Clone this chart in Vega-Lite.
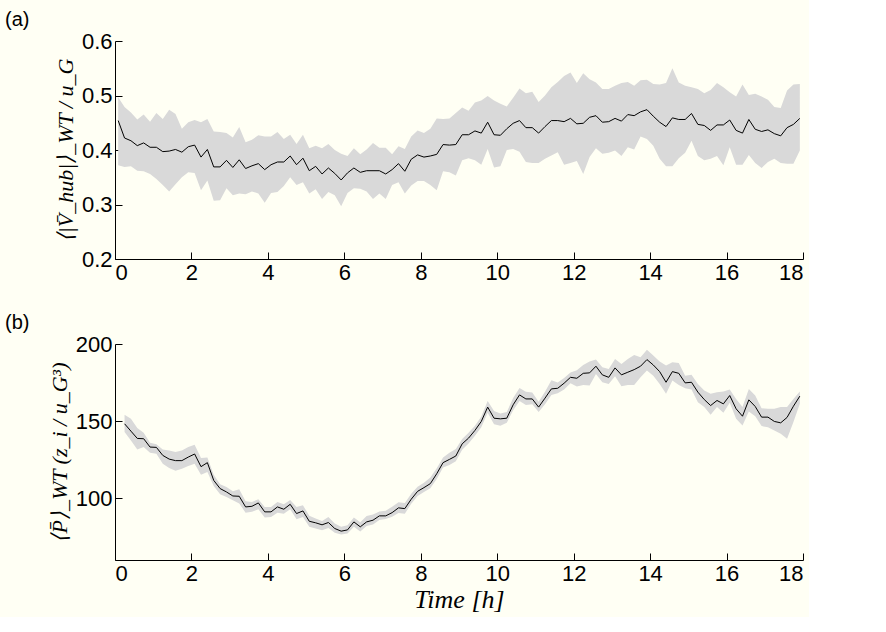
{
  "$schema": "https://vega.github.io/schema/vega-lite/v6.json",
  "background": "#fffff4",
  "padding": {"left": 5, "top": 10, "right": 5, "bottom": 5},
  "spacing": 30,
  "config": {
    "view": {"stroke": null},
    "font": "Liberation Sans",
    "axis": {
      "domainColor": "#000000", "domainWidth": 1,
      "tickColor": "#000000", "tickSize": -7, "tickWidth": 1,
      "labelPadding": 10, "labelFont": "Liberation Sans", "labelFontSize": 22, "labelColor": "#000000",
      "grid": false,
      "titleFont": "Liberation Serif", "titleFontStyle": "italic", "titleFontWeight": "normal", "titleColor": "#000000", "titleFontSize": 22
    },
    "title": {"font": "Liberation Sans", "fontSize": 20, "fontWeight": "normal", "color": "#000000", "anchor": "start", "frame": "group"}
  },
  "datasets": {
    "top": [
      {"t":0.083,"m":0.454,"lo":0.372,"hi":0.497},{"t":0.250,"m":0.422,"lo":0.369,"hi":0.479},{"t":0.417,"m":0.417,"lo":0.370,"hi":0.469},{"t":0.583,"m":0.408,"lo":0.362,"hi":0.456},
      {"t":0.750,"m":0.413,"lo":0.361,"hi":0.465},{"t":0.917,"m":0.405,"lo":0.356,"hi":0.452},{"t":1.083,"m":0.405,"lo":0.347,"hi":0.468},{"t":1.250,"m":0.397,"lo":0.336,"hi":0.457},
      {"t":1.417,"m":0.398,"lo":0.324,"hi":0.474},{"t":1.583,"m":0.401,"lo":0.337,"hi":0.466},{"t":1.750,"m":0.396,"lo":0.350,"hi":0.439},{"t":1.917,"m":0.406,"lo":0.359,"hi":0.451},
      {"t":2.083,"m":0.409,"lo":0.358,"hi":0.455},{"t":2.250,"m":0.387,"lo":0.326,"hi":0.451},{"t":2.417,"m":0.401,"lo":0.344,"hi":0.457},{"t":2.583,"m":0.369,"lo":0.307,"hi":0.434},
      {"t":2.750,"m":0.369,"lo":0.308,"hi":0.433},{"t":2.917,"m":0.381,"lo":0.330,"hi":0.431},{"t":3.083,"m":0.368,"lo":0.317,"hi":0.423},{"t":3.250,"m":0.382,"lo":0.320,"hi":0.442},
      {"t":3.417,"m":0.366,"lo":0.319,"hi":0.414},{"t":3.583,"m":0.371,"lo":0.324,"hi":0.419},{"t":3.750,"m":0.375,"lo":0.320,"hi":0.427},{"t":3.917,"m":0.364,"lo":0.303,"hi":0.425},
      {"t":4.083,"m":0.373,"lo":0.321,"hi":0.425},{"t":4.250,"m":0.378,"lo":0.323,"hi":0.433},{"t":4.417,"m":0.378,"lo":0.334,"hi":0.420},{"t":4.583,"m":0.389,"lo":0.350,"hi":0.428},
      {"t":4.750,"m":0.373,"lo":0.336,"hi":0.411},{"t":4.917,"m":0.385,"lo":0.341,"hi":0.428},{"t":5.083,"m":0.362,"lo":0.320,"hi":0.403},{"t":5.250,"m":0.370,"lo":0.328,"hi":0.408},
      {"t":5.417,"m":0.356,"lo":0.310,"hi":0.403},{"t":5.583,"m":0.367,"lo":0.323,"hi":0.411},{"t":5.750,"m":0.357,"lo":0.317,"hi":0.400},{"t":5.917,"m":0.345,"lo":0.297,"hi":0.393},
      {"t":6.083,"m":0.358,"lo":0.321,"hi":0.389},{"t":6.250,"m":0.367,"lo":0.330,"hi":0.403},{"t":6.417,"m":0.359,"lo":0.329,"hi":0.392},{"t":6.583,"m":0.362,"lo":0.324,"hi":0.401},
      {"t":6.750,"m":0.362,"lo":0.310,"hi":0.413},{"t":6.917,"m":0.362,"lo":0.320,"hi":0.404},{"t":7.083,"m":0.356,"lo":0.310,"hi":0.404},{"t":7.250,"m":0.364,"lo":0.336,"hi":0.392},
      {"t":7.417,"m":0.375,"lo":0.341,"hi":0.407},{"t":7.583,"m":0.361,"lo":0.320,"hi":0.402},{"t":7.750,"m":0.383,"lo":0.335,"hi":0.425},{"t":7.917,"m":0.391,"lo":0.343,"hi":0.436},
      {"t":8.083,"m":0.387,"lo":0.343,"hi":0.431},{"t":8.250,"m":0.389,"lo":0.336,"hi":0.439},{"t":8.417,"m":0.392,"lo":0.326,"hi":0.458},{"t":8.583,"m":0.410,"lo":0.361,"hi":0.457},
      {"t":8.750,"m":0.409,"lo":0.359,"hi":0.458},{"t":8.917,"m":0.410,"lo":0.353,"hi":0.468},{"t":9.083,"m":0.428,"lo":0.381,"hi":0.478},{"t":9.250,"m":0.428,"lo":0.385,"hi":0.472},
      {"t":9.417,"m":0.435,"lo":0.381,"hi":0.487},{"t":9.583,"m":0.431,"lo":0.373,"hi":0.491},{"t":9.750,"m":0.451,"lo":0.402,"hi":0.499},{"t":9.917,"m":0.428,"lo":0.368,"hi":0.491},
      {"t":10.083,"m":0.427,"lo":0.370,"hi":0.485},{"t":10.250,"m":0.439,"lo":0.400,"hi":0.480},{"t":10.417,"m":0.449,"lo":0.402,"hi":0.496},{"t":10.583,"m":0.454,"lo":0.397,"hi":0.513},
      {"t":10.750,"m":0.441,"lo":0.378,"hi":0.504},{"t":10.917,"m":0.441,"lo":0.376,"hi":0.507},{"t":11.083,"m":0.431,"lo":0.376,"hi":0.488},{"t":11.250,"m":0.443,"lo":0.384,"hi":0.500},
      {"t":11.417,"m":0.454,"lo":0.390,"hi":0.515},{"t":11.583,"m":0.454,"lo":0.396,"hi":0.525},{"t":11.750,"m":0.452,"lo":0.373,"hi":0.536},{"t":11.917,"m":0.458,"lo":0.376,"hi":0.542},
      {"t":12.083,"m":0.448,"lo":0.380,"hi":0.523},{"t":12.250,"m":0.449,"lo":0.356,"hi":0.541},{"t":12.417,"m":0.460,"lo":0.387,"hi":0.530},{"t":12.583,"m":0.463,"lo":0.403,"hi":0.524},
      {"t":12.750,"m":0.451,"lo":0.393,"hi":0.512},{"t":12.917,"m":0.452,"lo":0.395,"hi":0.512},{"t":13.083,"m":0.458,"lo":0.399,"hi":0.518},{"t":13.250,"m":0.453,"lo":0.389,"hi":0.523},
      {"t":13.417,"m":0.465,"lo":0.405,"hi":0.525},{"t":13.583,"m":0.463,"lo":0.401,"hi":0.518},{"t":13.750,"m":0.470,"lo":0.425,"hi":0.528},{"t":13.917,"m":0.474,"lo":0.420,"hi":0.529},
      {"t":14.083,"m":0.462,"lo":0.408,"hi":0.521},{"t":14.250,"m":0.451,"lo":0.384,"hi":0.520},{"t":14.417,"m":0.443,"lo":0.370,"hi":0.523},{"t":14.583,"m":0.459,"lo":0.370,"hi":0.550},
      {"t":14.750,"m":0.456,"lo":0.385,"hi":0.524},{"t":14.917,"m":0.456,"lo":0.395,"hi":0.518},{"t":15.083,"m":0.467,"lo":0.417,"hi":0.515},{"t":15.250,"m":0.447,"lo":0.389,"hi":0.512},
      {"t":15.417,"m":0.445,"lo":0.381,"hi":0.504},{"t":15.583,"m":0.436,"lo":0.384,"hi":0.510},{"t":15.750,"m":0.446,"lo":0.389,"hi":0.523},{"t":15.917,"m":0.446,"lo":0.372,"hi":0.515},
      {"t":16.083,"m":0.455,"lo":0.405,"hi":0.506},{"t":16.250,"m":0.436,"lo":0.373,"hi":0.498},{"t":16.417,"m":0.431,"lo":0.373,"hi":0.520},{"t":16.583,"m":0.456,"lo":0.391,"hi":0.501},
      {"t":16.750,"m":0.438,"lo":0.376,"hi":0.503},{"t":16.917,"m":0.434,"lo":0.367,"hi":0.498},{"t":17.083,"m":0.437,"lo":0.378,"hi":0.492},{"t":17.250,"m":0.430,"lo":0.384,"hi":0.479},
      {"t":17.417,"m":0.426,"lo":0.376,"hi":0.477},{"t":17.583,"m":0.441,"lo":0.375,"hi":0.509},{"t":17.750,"m":0.447,"lo":0.375,"hi":0.520},{"t":17.917,"m":0.458,"lo":0.399,"hi":0.521}
    ],
    "bot": [
      {"t":0.250,"m":148.3,"lo":142.9,"hi":154.1},{"t":0.417,"m":143.5,"lo":137.5,"hi":151.5},{"t":0.583,"m":138.8,"lo":131.7,"hi":145.5},
      {"t":0.750,"m":138.6,"lo":133.2,"hi":142.5},{"t":0.917,"m":133.2,"lo":129.5,"hi":136.0},{"t":1.083,"m":133.0,"lo":128.9,"hi":135.1},{"t":1.250,"m":127.8,"lo":122.4,"hi":131.7},
      {"t":1.417,"m":125.4,"lo":119.6,"hi":131.0},{"t":1.583,"m":124.4,"lo":117.9,"hi":130.0},{"t":1.750,"m":124.4,"lo":119.2,"hi":131.0},{"t":1.917,"m":126.7,"lo":120.9,"hi":133.2},
      {"t":2.083,"m":128.7,"lo":122.4,"hi":134.7},{"t":2.250,"m":120.5,"lo":115.3,"hi":126.1},{"t":2.417,"m":123.1,"lo":117.0,"hi":126.5},{"t":2.583,"m":111.6,"lo":108.0,"hi":115.3},
      {"t":2.750,"m":106.3,"lo":102.6,"hi":109.1},{"t":2.917,"m":104.1,"lo":100.9,"hi":107.3},{"t":3.083,"m":101.5,"lo":98.7,"hi":104.5},{"t":3.250,"m":101.3,"lo":96.6,"hi":105.8},
      {"t":3.417,"m":94.4,"lo":90.7,"hi":98.1},{"t":3.583,"m":94.8,"lo":91.2,"hi":97.6},{"t":3.750,"m":97.0,"lo":92.9,"hi":99.4},{"t":3.917,"m":91.2,"lo":87.5,"hi":94.4},
      {"t":4.083,"m":91.2,"lo":87.9,"hi":94.4},{"t":4.250,"m":94.4,"lo":90.7,"hi":97.6},{"t":4.417,"m":92.9,"lo":89.9,"hi":96.1},{"t":4.583,"m":96.1,"lo":92.9,"hi":98.9},
      {"t":4.750,"m":90.1,"lo":86.4,"hi":94.4},{"t":4.917,"m":91.8,"lo":87.9,"hi":95.5},{"t":5.083,"m":85.1,"lo":81.5,"hi":88.6},{"t":5.250,"m":84.1,"lo":80.4,"hi":86.9},
      {"t":5.417,"m":82.8,"lo":79.3,"hi":85.3},{"t":5.583,"m":84.3,"lo":80.8,"hi":87.9},{"t":5.750,"m":80.4,"lo":77.6,"hi":83.6},{"t":5.917,"m":78.7,"lo":76.5,"hi":81.5},
      {"t":6.083,"m":79.5,"lo":77.2,"hi":82.5},{"t":6.250,"m":84.7,"lo":81.5,"hi":87.5},{"t":6.417,"m":81.5,"lo":78.5,"hi":84.5},{"t":6.583,"m":84.7,"lo":82.0,"hi":88.5},
      {"t":6.750,"m":85.8,"lo":83.0,"hi":89.5},{"t":6.917,"m":88.6,"lo":86.0,"hi":91.5},{"t":7.083,"m":88.6,"lo":86.5,"hi":92.0},{"t":7.250,"m":90.7,"lo":88.0,"hi":94.5},
      {"t":7.417,"m":93.8,"lo":90.5,"hi":97.5},{"t":7.583,"m":93.3,"lo":90.0,"hi":97.0},{"t":7.750,"m":99.4,"lo":96.5,"hi":103.0},{"t":7.917,"m":104.5,"lo":101.5,"hi":107.5},
      {"t":8.083,"m":106.9,"lo":104.0,"hi":110.0},{"t":8.250,"m":109.5,"lo":106.5,"hi":113.5},{"t":8.417,"m":115.9,"lo":112.5,"hi":119.5},{"t":8.583,"m":123.1,"lo":120.0,"hi":126.5},
      {"t":8.750,"m":125.2,"lo":121.5,"hi":129.5},{"t":8.917,"m":127.4,"lo":124.0,"hi":132.0},{"t":9.083,"m":135.3,"lo":131.5,"hi":138.5},{"t":9.250,"m":139.0,"lo":135.5,"hi":142.5},
      {"t":9.417,"m":144.0,"lo":140.5,"hi":147.0},{"t":9.583,"m":149.8,"lo":146.0,"hi":153.0},{"t":9.750,"m":159.1,"lo":155.5,"hi":163.0},{"t":9.917,"m":151.9,"lo":148.0,"hi":156.5},
      {"t":10.083,"m":151.5,"lo":147.0,"hi":155.0},{"t":10.250,"m":151.9,"lo":149.0,"hi":156.0},{"t":10.417,"m":160.6,"lo":157.0,"hi":165.0},{"t":10.583,"m":167.0,"lo":163.0,"hi":171.5},
      {"t":10.750,"m":164.4,"lo":160.5,"hi":169.0},{"t":10.917,"m":164.4,"lo":161.0,"hi":168.5},{"t":11.083,"m":159.1,"lo":156.0,"hi":162.5},{"t":11.250,"m":164.9,"lo":161.0,"hi":169.0},
      {"t":11.417,"m":170.9,"lo":167.0,"hi":176.5},{"t":11.583,"m":171.3,"lo":168.0,"hi":175.0},{"t":11.750,"m":174.6,"lo":170.5,"hi":178.0},{"t":11.917,"m":178.4,"lo":174.5,"hi":181.5},
      {"t":12.083,"m":177.8,"lo":172.5,"hi":183.0},{"t":12.250,"m":181.0,"lo":173.5,"hi":186.4},{"t":12.417,"m":181.3,"lo":173.1,"hi":188.6},{"t":12.583,"m":185.6,"lo":180.6,"hi":189.9},
      {"t":12.750,"m":180.0,"lo":175.2,"hi":184.9},{"t":12.917,"m":178.4,"lo":174.1,"hi":183.8},{"t":13.083,"m":184.5,"lo":179.1,"hi":190.3},{"t":13.250,"m":180.0,"lo":172.6,"hi":187.1},
      {"t":13.417,"m":181.7,"lo":173.5,"hi":190.3},{"t":13.583,"m":183.4,"lo":173.5,"hi":192.9},{"t":13.750,"m":185.6,"lo":178.4,"hi":191.4},{"t":13.917,"m":189.9,"lo":182.8,"hi":196.3},
      {"t":14.083,"m":186.4,"lo":179.5,"hi":192.5},{"t":14.250,"m":182.1,"lo":174.1,"hi":188.6},{"t":14.417,"m":175.2,"lo":167.7,"hi":186.0},{"t":14.583,"m":182.1,"lo":176.3,"hi":188.1},
      {"t":14.750,"m":181.0,"lo":173.5,"hi":187.7},{"t":14.917,"m":174.8,"lo":171.3,"hi":179.5},{"t":15.083,"m":175.2,"lo":170.5,"hi":180.0},{"t":15.250,"m":168.8,"lo":162.3,"hi":174.1},
      {"t":15.417,"m":164.0,"lo":159.1,"hi":169.8},{"t":15.583,"m":160.1,"lo":154.1,"hi":167.7},{"t":15.750,"m":163.4,"lo":159.1,"hi":168.8},{"t":15.917,"m":161.2,"lo":155.4,"hi":169.2},
      {"t":16.083,"m":166.6,"lo":161.9,"hi":170.5},{"t":16.250,"m":158.0,"lo":151.5,"hi":164.4},{"t":16.417,"m":153.2,"lo":147.2,"hi":159.1},{"t":16.583,"m":163.8,"lo":156.3,"hi":170.9},
      {"t":16.750,"m":159.5,"lo":153.2,"hi":166.6},{"t":16.917,"m":152.6,"lo":146.8,"hi":158.4},{"t":17.083,"m":152.6,"lo":146.1,"hi":158.0},{"t":17.250,"m":149.8,"lo":144.0,"hi":158.0},
      {"t":17.417,"m":148.9,"lo":141.8,"hi":159.1},{"t":17.583,"m":152.4,"lo":138.6,"hi":159.1},{"t":17.750,"m":159.7,"lo":149.4,"hi":164.4},{"t":17.917,"m":166.2,"lo":161.2,"hi":169.2}
    ]
  },
  "vconcat": [
    {
      "width": 688, "height": 218,
      "title": {"text": "(a)", "dx": -110, "offset": 0},
      "data": {"name": "top"},
      "layer": [
        {
          "mark": {"type": "area", "color": "#d9d9d9", "opacity": 1},
          "encoding": {
            "x": {"field": "t", "type": "quantitative", "scale": {"domain": [0, 18], "nice": false}, "axis": {"values": [0,2,4,6,8,10,12,14,16,18], "title": null}},
            "y": {"field": "lo", "type": "quantitative", "scale": {"domain": [0.2, 0.6], "nice": false}, "axis": {"values": [0.2,0.3,0.4,0.5,0.6], "format": ".1f", "title": "⟨|V̄_hub|⟩_WT / u_G", "titlePadding": 4}},
            "y2": {"field": "hi"}
          }
        },
        {
          "mark": {"type": "line", "color": "#000000", "strokeWidth": 1},
          "encoding": {
            "x": {"field": "t", "type": "quantitative"},
            "y": {"field": "m", "type": "quantitative"}
          }
        }
      ]
    },
    {
      "width": 688, "height": 216,
      "title": {"text": "(b)", "dx": -110, "offset": 0},
      "data": {"name": "bot"},
      "layer": [
        {
          "mark": {"type": "area", "color": "#d9d9d9", "opacity": 1},
          "encoding": {
            "x": {"field": "t", "type": "quantitative", "scale": {"domain": [0, 18], "nice": false}, "axis": {"values": [0,2,4,6,8,10,12,14,16,18], "title": "Time [h]", "titleFontSize": 26, "titlePadding": 2}},
            "y": {"field": "lo", "type": "quantitative", "scale": {"domain": [60, 200], "nice": false}, "axis": {"values": [100,150,200], "title": "⟨P̄⟩_WT (z_i / u_G³)", "titlePadding": 4}},
            "y2": {"field": "hi"}
          }
        },
        {
          "mark": {"type": "line", "color": "#000000", "strokeWidth": 1},
          "encoding": {
            "x": {"field": "t", "type": "quantitative"},
            "y": {"field": "m", "type": "quantitative"}
          }
        }
      ]
    }
  ]
}
